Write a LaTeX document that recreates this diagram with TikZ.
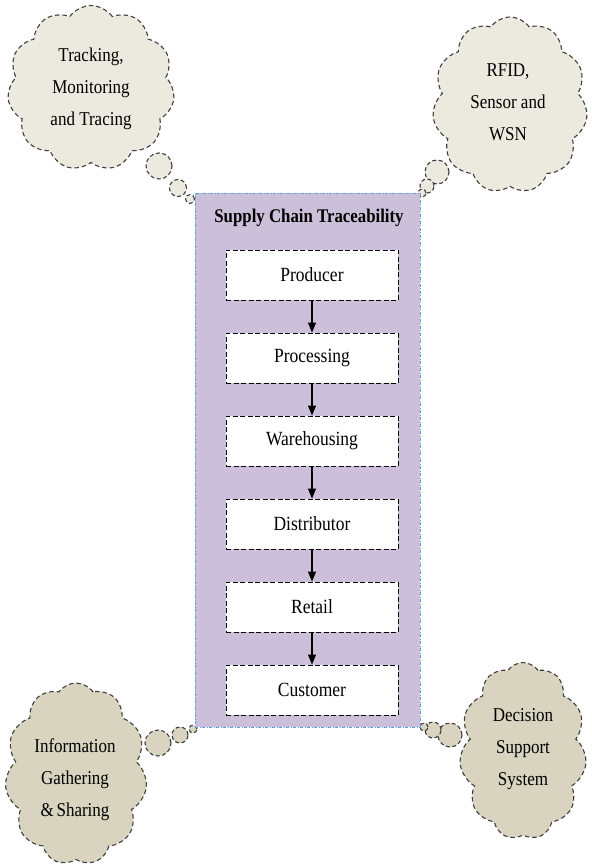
\documentclass[tikz,border=0pt]{standalone}
\usepackage{fontspec}
\usepackage{graphicx}
\setmainfont{Liberation Serif}
\usetikzlibrary{shapes.symbols,arrows.meta}
\newcommand\tl[1]{\scalebox{1}[1.15]{#1}}
\definecolor{cloudlight}{HTML}{ECE9DF}
\definecolor{clouddark}{HTML}{D9D4BF}
\definecolor{lav}{HTML}{CBBFD9}
\definecolor{bord}{HTML}{5B9BE0}
\definecolor{cline}{HTML}{3F3F3F}
\tikzset{
  cloudbase/.style={cloud, cloud puffs=11, cloud puff arc=110, draw=cline, line width=1.1pt,
    dash pattern=on 4.5pt off 3pt, inner sep=0pt, aspect=1},
  cloudtext/.style={align=center, font=\fontsize{17}{32}\selectfont},
  bubble/.style={circle, draw=cline, line width=1.1pt, dash pattern=on 4pt off 2.5pt, inner sep=0pt},
  stage/.style={draw=black, fill=white, line width=0.9pt, dash pattern=on 5pt off 2.5pt,
    minimum width=172pt, minimum height=50pt, inner sep=0pt, font=\fontsize{17.5}{23}\selectfont},
  flow/.style={-{Triangle[length=10pt,width=8pt]}, line width=1.1pt},
}
\begin{document}
\begin{tikzpicture}[x=1pt,y=-1pt]
\useasboundingbox (0,0) rectangle (591,866);
% clouds
\node[cloudbase, fill=cloudlight, minimum width=167pt, minimum height=165pt] (c1) at (91,88) {};
\node[bubble, fill=cloudlight, minimum size=26pt] (b11) at (159,166) {};
\node[bubble, fill=cloudlight, minimum size=17pt] (b12) at (178,188) {};
\node[bubble, fill=cloudlight, minimum size=9pt] (b13) at (190,199) {};
\node[cloudtext] (t1) at (c1.center) [yshift=-1pt] {\tl{Tracking,}\\\tl{Monitoring}\\\tl{and Tracing}};

\node[cloudbase, fill=cloudlight, minimum width=155pt, minimum height=176pt] (c2) at (510,105) {};
\node[bubble, fill=cloudlight, minimum size=24pt] (b21) at (437,172) {};
\node[bubble, fill=cloudlight, minimum size=14pt] (b22) at (427,186) {};
\node[bubble, fill=cloudlight, minimum size=8pt] (b23) at (422,193) {};
\node[cloudtext] (t2) at (508,102) {\tl{RFID,}\\\tl{Sensor and}\\\tl{WSN}};

\node[cloudbase, fill=clouddark, minimum width=142pt, minimum height=182pt] (c3) at (76,774) {};
\node[bubble, fill=clouddark, minimum size=26pt] (b31) at (158,743) {};
\node[bubble, fill=clouddark, minimum size=16pt] (b32) at (180,735) {};
\node[bubble, fill=clouddark, minimum size=8pt] (b33) at (193,729) {};
\node[cloudtext] (t3) at (75,780) {\tl{Information}\\\tl{Gathering}\\\tl{\&\,Sharing}};

\node[cloudbase, fill=clouddark, minimum width=127pt, minimum height=177pt] (c4) at (523,751) {};
\node[bubble, fill=clouddark, minimum size=24pt] (b41) at (450,735) {};
\node[bubble, fill=clouddark, minimum size=16pt] (b42) at (433,730) {};
\node[bubble, fill=clouddark, minimum size=8pt] (b43) at (424,727) {};
\node[cloudtext] (t4) at (523,749) {\tl{Decision}\\\tl{Support}\\\tl{System}};

% main box
\node[draw=bord, fill=lav, line width=0.8pt, dash pattern=on 3pt off 1.5pt on 1pt off 1.5pt,
  minimum width=225pt, minimum height=534pt, inner sep=0pt] (main) at (307.5,460) {};
\node[font=\bfseries\fontsize{16.8}{23}\selectfont] (title) at (309,218) {\tl{Supply Chain Traceability}};

\node[stage] (s1) at (312,275) {\tl{Producer}};
\node[stage] (s2) at (312,358) {\tl{Processing}};
\node[stage] (s3) at (312,441) {\tl{Warehousing}};
\node[stage] (s4) at (312,524) {\tl{Distributor}};
\node[stage] (s5) at (312,607) {\tl{Retail}};
\node[stage] (s6) at (312,690) {\tl{Customer}};
\draw[flow] (s1) -- (s2);
\draw[flow] (s2) -- (s3);
\draw[flow] (s3) -- (s4);
\draw[flow] (s4) -- (s5);
\draw[flow] (s5) -- (s6);
\end{tikzpicture}
\end{document}
